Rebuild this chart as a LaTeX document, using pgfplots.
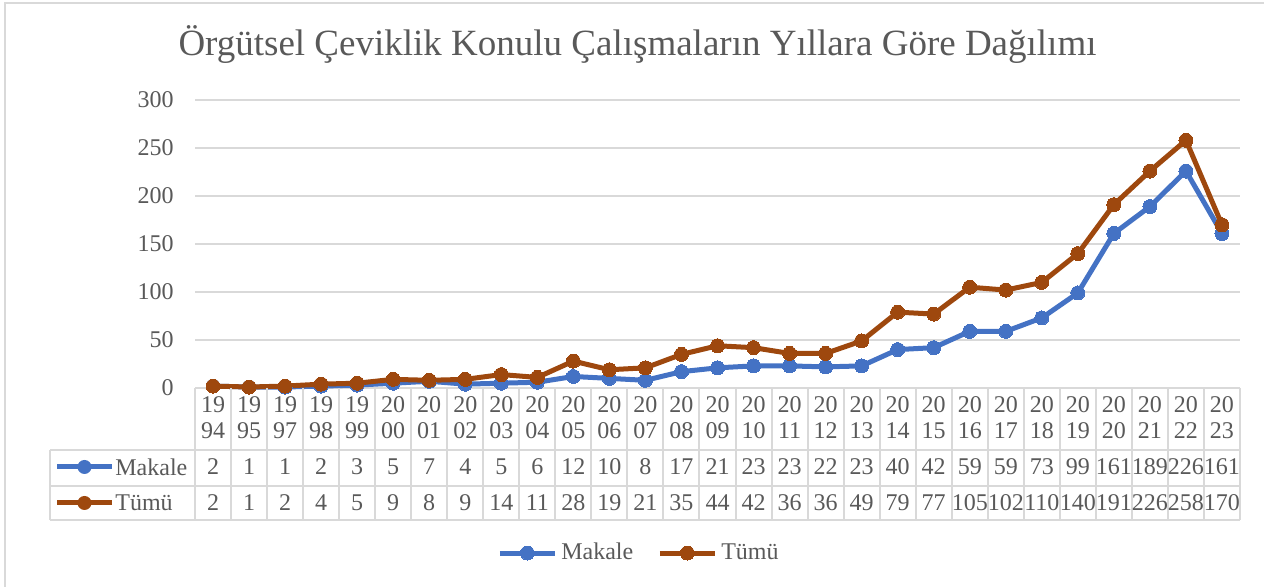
\documentclass[border=0pt]{standalone}
\usepackage{fontspec}
\setmainfont{Liberation Serif}
\usepackage{pgfplots}
\pgfplotsset{compat=1.18}
\definecolor{mblue}{HTML}{4472C4}
\definecolor{mbrown}{HTML}{9E480E}
\definecolor{txt}{HTML}{595959}
\definecolor{grd}{HTML}{D9D9D9}

\begin{document}
\begin{tikzpicture}[x=0.5pt,y=0.5pt]
\useasboundingbox (0,0) rectangle (1264,587);
% frame (only top and left edges show)
\draw[grd, line width=1pt] (5,0) -- (5,584) -- (1264,584);
\node[txt, font=\fontsize{18.5}{22}\selectfont] at (637.5,542)
  {Örgütsel Çeviklik Konulu Çalışmaların Yıllara Göre Dağılımı};

\begin{axis}[
  at={(97.5pt,99.5pt)}, anchor=south west,
  width=522.5pt, height=144pt, scale only axis,
  xmin=-0.5, xmax=28.5, ymin=0, ymax=300,
  ytick={0,50,...,300}, xtick=\empty,
  axis line style={draw=none}, major tick length=0pt,
  ymajorgrids, grid style={grd, line width=0.75pt},
  clip=false,
  /pgf/number format/assume math mode=true,
  yticklabel style={font=\fontsize{12}{14}\selectfont, text=txt, inner sep=0pt, xshift=-10.5pt},
  legend style={at={(0.4258,-0.573)}, anchor=center, draw=none, fill=none,
    font=\fontsize{12}{14}\selectfont, text=txt, legend columns=2,
    /tikz/every even column/.append style={column sep=10pt}},
  legend image code/.code={\draw[mark repeat=2,mark phase=2]
    plot coordinates {(0pt,0pt) (13.75pt,0pt) (27.5pt,0pt)};},
  every axis plot/.append style={line width=2.5pt, line join=round, mark=*, mark size=3.5pt},
]
% Makale
\addplot[mblue, mark options={fill=mblue, draw=mblue, line width=0pt}] coordinates {
  (0,2) (1,1) (2,1) (3,2) (4,3) (5,5) (6,7) (7,4) (8,5) (9,6)
  (10,12) (11,10) (12,8) (13,17) (14,21) (15,23) (16,23) (17,22) (18,23) (19,40)
  (20,42) (21,59) (22,59) (23,73) (24,99) (25,161) (26,189) (27,226) (28,161)
};
\addlegendentry{Makale}
% Tümü
\addplot[mbrown, mark options={fill=mbrown, draw=mbrown, line width=0pt}] coordinates {
  (0,2) (1,1) (2,2) (3,4) (4,5) (5,9) (6,8) (7,9) (8,14) (9,11)
  (10,28) (11,19) (12,21) (13,35) (14,44) (15,42) (16,36) (17,36) (18,49) (19,79)
  (20,77) (21,105) (22,102) (23,110) (24,140) (25,191) (26,226) (27,258) (28,170)
};
\addlegendentry{Tümü}
\end{axis}

% data table under the plot
\def\cw{36.0345}
\foreach \i in {0,...,29} \draw[grd, line width=1pt] ({195+\i*\cw},199) -- ({195+\i*\cw},67);
\draw[grd, line width=1pt] (50,137) -- (1240,137);
\draw[grd, line width=1pt] (50,101) -- (1240,101);
\draw[grd, line width=1pt] (50,67) -- (1240,67);
\draw[grd, line width=1pt] (50,137) -- (50,67);
\begin{scope}[every node/.style={txt, font=\fontsize{12}{14}\selectfont, inner sep=0pt}]
\foreach \a/\b [count=\i from 0] in {19/94,19/95,19/97,19/98,19/99,20/00,20/01,20/02,20/03,20/04,
  20/05,20/06,20/07,20/08,20/09,20/10,20/11,20/12,20/13,20/14,20/15,20/16,20/17,20/18,20/19,
  20/20,20/21,20/22,20/23}
  {\node at ({195+(\i+0.5)*\cw},182) {\a}; \node at ({195+(\i+0.5)*\cw},156) {\b};}
\foreach \v [count=\i from 0] in {2,1,1,2,3,5,7,4,5,6,12,10,8,17,21,23,23,22,23,40,42,59,59,73,99,161,189,226,161}
  \node at ({195+(\i+0.5)*\cw},120) {\v};
\foreach \v [count=\i from 0] in {2,1,2,4,5,9,8,9,14,11,28,19,21,35,44,42,36,36,49,79,77,105,102,110,140,191,226,258,170}
  \node at ({195+(\i+0.5)*\cw},84) {\v};
\node[anchor=west] at (115,120) {Makale};
\node[anchor=west] at (115,84) {Tümü};
\end{scope}
\draw[mblue, line width=2.5pt] (57,120) -- (112,120);
\fill[mblue] (84.5,120) circle (3.5pt);
\draw[mbrown, line width=2.5pt] (57,84) -- (112,84);
\fill[mbrown] (84.5,84) circle (3.5pt);
\end{tikzpicture}
\end{document}
